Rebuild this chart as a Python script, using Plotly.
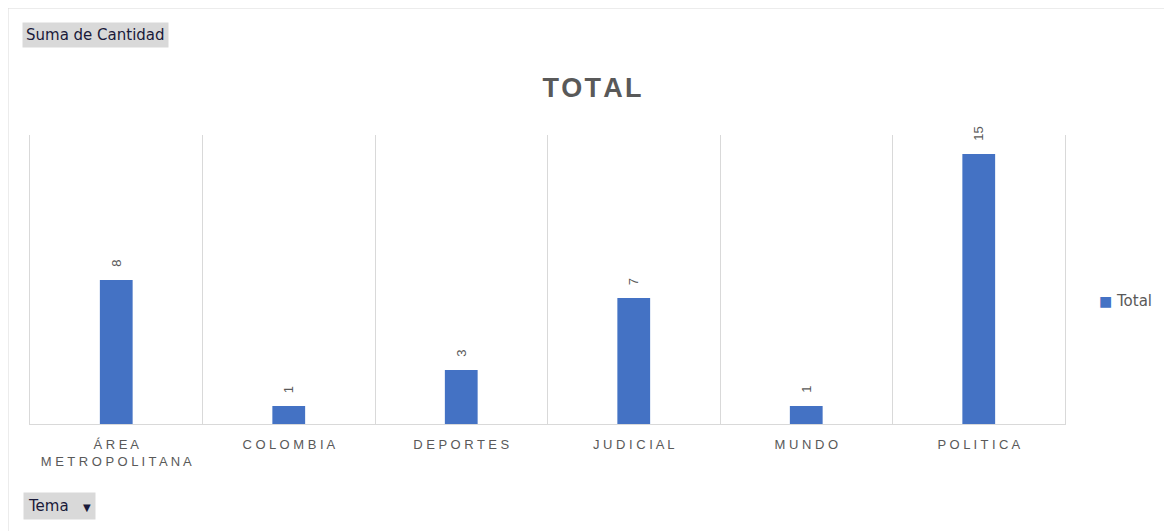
import plotly.graph_objects as go

categories = ["ÁREA METROPOLITANA", "COLOMBIA", "DEPORTES", "JUDICIAL", "MUNDO", "POLITICA"]
values = [8, 1, 3, 7, 1, 15]
series_name = "Total"
title_text = "TOTAL"
button_top = "Suma de Cantidad"
button_bottom = "Tema"

HS = "\u200a"  # hair space for title letter spacing


def spaced(s):
    words = s.split(" ")
    return "<br>".join(" ".join(list(w)) for w in words)


ticktext = [spaced(c) for c in categories]
xs = list(range(len(categories)))

OFF = 8  # page body margin in the browser
W, H = 1172 - OFF, 531 - OFF
# plot area in page pixels: x 30..1065, y 135..424
L, R, T, B = 30 - OFF, 1172 - 1065, 135 - OFF, 531 - 424
pw, ph = W - L - R, H - T - B


def px_x(px):  # page px -> paper x
    return (px - OFF - L) / pw


def px_y(py):  # page px -> paper y
    return (H - B - (py - OFF)) / ph


fig = go.Figure()
fig.add_trace(go.Bar(
    x=xs, y=values, name=series_name, width=0.19,
    marker=dict(color="#4472C4", line=dict(width=0)),
    showlegend=False,
))

annotations = []
for xi, v in zip(xs, values):
    annotations.append(dict(
        x=xi, y=v, xref="x", yref="y", text=str(v), showarrow=False,
        textangle=-90, yanchor="bottom", xanchor="center", yshift=11,
        font=dict(family="Liberation Sans", size=13, color="#595959"),
    ))

# legend drawn as text
annotations.append(dict(
    x=px_x(1097), y=px_y(301), xref="paper", yref="paper",
    xanchor="left", yanchor="middle", showarrow=False,
    text="<span style='color:#4472C4;font-size:14px'>■</span> " + series_name,
    font=dict(family="DejaVu Sans", size=15, color="#595959"),
))

# pivot-table field buttons
annotations.append(dict(
    x=px_x(22), y=px_y(35), xref="paper", yref="paper",
    xanchor="left", yanchor="middle", showarrow=False,
    text=button_top, bgcolor="#D9D9D9", borderpad=3,
    font=dict(family="DejaVu Sans", size=15, color="#1a1a3a"),
))
annotations.append(dict(
    x=px_x(23), y=px_y(506), xref="paper", yref="paper",
    xanchor="left", yanchor="middle", showarrow=False,
    text=button_bottom + "   <span style='font-size:10px'>▼</span>", bgcolor="#D9D9D9", borderpad=4,
    font=dict(family="DejaVu Sans", size=15, color="#1a1a3a"),
))

fig.update_layout(
    width=W, height=H,
    margin=dict(l=L, r=R, t=T, b=B),
    paper_bgcolor="white", plot_bgcolor="white",
    title=dict(
        text="<b>" + HS.join(list(title_text)) + "</b>",
        x=(592 - OFF) / W, xanchor="center", y=1 - (88 - OFF) / H, yanchor="middle",
        font=dict(family="Liberation Sans", size=27, color="#595959"),
    ),
    xaxis=dict(
        range=[-0.5, len(categories) - 0.5],
        tickmode="array", tickvals=xs, ticktext=ticktext,
        showgrid=False, zeroline=False,
        showline=True, linecolor="#D9D9D9", linewidth=1,
        ticks="outside", ticklen=8, tickcolor="rgba(0,0,0,0)",
        tickfont=dict(family="Liberation Sans", size=13, color="#595959"),
        minor=dict(tick0=-0.5, dtick=1, showgrid=True, gridcolor="#D9D9D9", gridwidth=1, ticks=""),
        fixedrange=True,
    ),
    yaxis=dict(
        range=[0, 16.05], showgrid=False, zeroline=False, showticklabels=False,
        showline=True, mirror=True, linecolor="#D9D9D9", linewidth=1, fixedrange=True,
    ),
    showlegend=False,
    annotations=annotations,
    shapes=[dict(
        type="rect", xref="paper", yref="paper",
        x0=px_x(8), x1=px_x(1180),
        y0=px_y(540), y1=px_y(8),
        line=dict(color="#D9D9D9", width=1), fillcolor="rgba(0,0,0,0)", layer="below",
    )],
)

fig.write_html("out.html")
